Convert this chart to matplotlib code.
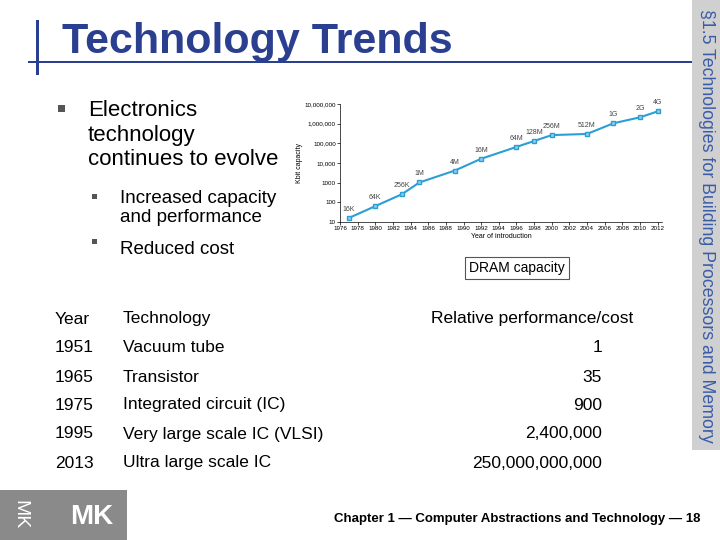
import matplotlib.pyplot as plt
from matplotlib.patches import Rectangle

years = [1977, 1980, 1983, 1985, 1989, 1992, 1996, 1998, 2000, 2004, 2007, 2010, 2012]
kbits = [16, 64, 256, 1024, 4096, 16384, 65536, 131072, 262144, 300000, 1048576, 2097152, 4194304]
chips = ["16K", "64K", "256K", "1M", "4M", "16M", "64M", "128M", "256M", "512M", "1G", "2G", "4G"]
xticks = list(range(1976, 2013, 2))
yticks = [10, 100, 1000, 10000, 100000, 1000000, 10000000]
yticklabels = ["10", "100", "1000", "10,000", "100,000", "1,000,000", "10,000,000"]

table_head = ["Year", "Technology", "Relative performance/cost"]
t_year = ["1951", "1965", "1975", "1995", "2013"]
t_tech = ["Vacuum tube", "Transistor", "Integrated circuit (IC)", "Very large scale IC (VLSI)", "Ultra large scale IC"]
t_perf = ["1", "35", "900", "2,400,000", "250,000,000,000"]

W, H = 720, 540
fig = plt.figure(figsize=(7.2, 5.4), dpi=100)
plt.rcParams['font.family'] = ['Liberation Sans', 'DejaVu Sans']
blue = "#2b3f90"

def fx(x): return x / W
def fy(y): return 1 - y / H

# decorations
fig.add_artist(Rectangle((fx(36), fy(75)), fx(3), 55 / H, color=blue, lw=0))
fig.add_artist(Rectangle((fx(28), fy(63)), fx(665), 2 / H, color=blue, lw=0))
fig.add_artist(Rectangle((fx(692), fy(450)), fx(28), 450 / H, color="#d0d0d0", lw=0))
fig.text(fx(706), fy(226), "§1.5 Technologies for Building Processors and Memory", rotation=-90,
         color="#3a5ca8", fontsize=12.8, ha="center", va="center")
fig.text(fx(62), fy(42), "Technology Trends", color=blue, fontsize=31, fontweight="bold", va="center")

# bullets
fig.add_artist(Rectangle((fx(58), fy(112)), fx(7), 7 / H, color="#555555", lw=0))
fig.text(fx(88), fy(135), "Electronics\ntechnology\ncontinues to evolve", fontsize=16, va="center", linespacing=1.2)
for yy in (200, 245):
    fig.add_artist(Rectangle((fx(92), fy(yy - 1)), fx(5), 5 / H, color="#555555", lw=0))
fig.text(fx(120), fy(208), "Increased capacity\nand performance", fontsize=13.5, va="center", linespacing=1.15)
fig.text(fx(120), fy(249), "Reduced cost", fontsize=13.5, va="center")

# DRAM chart
ax = fig.add_axes([fx(340), fy(222), fx(322), 118 / H])
ax.plot(years, kbits, color="#2a9fd6", lw=1.5, marker="s", ms=3.5, mfc="#8fcdef", mec="#2a9fd6")
for x, y, s in zip(years, kbits, chips):
    ax.text(x, y * 1.8, s, fontsize=5, ha="center", va="bottom", color="#444444")
ax.set_yscale("log")
ax.set_xlim(1976, 2012.5)
ax.set_ylim(10, 10000000)
ax.set_xticks(xticks)
ax.set_xticklabels([str(v) for v in xticks], fontsize=4.5)
ax.set_yticks(yticks)
ax.set_yticklabels(yticklabels, fontsize=4.5)
ax.minorticks_off()
ax.tick_params(length=2, width=0.5, pad=1)
for s in ("top", "right"):
    ax.spines[s].set_visible(False)
for s in ("left", "bottom"):
    ax.spines[s].set_linewidth(0.5)
ax.set_xlabel("Year of introduction", fontsize=5, labelpad=1)
ax.set_ylabel("Kbit capacity", fontsize=5, labelpad=1)
fig.text(fx(517), fy(268), "DRAM capacity", fontsize=10, ha="center", va="center",
         bbox=dict(boxstyle="square,pad=0.3", fc="white", ec="#555555", lw=0.8))

# table
rows_y = [319, 348, 377, 405, 434, 463]
fig.text(fx(55), fy(319), table_head[0], fontsize=12.5, va="center")
fig.text(fx(123), fy(319), table_head[1], fontsize=12.5, va="center")
fig.text(fx(532), fy(319), table_head[2], fontsize=12.5, va="center", ha="center")
for i in range(len(t_year)):
    yy = rows_y[i + 1]
    fig.text(fx(55), fy(yy), t_year[i], fontsize=12.5, va="center")
    fig.text(fx(123), fy(yy), t_tech[i], fontsize=12.5, va="center")
    fig.text(fx(602), fy(yy), t_perf[i], fontsize=12.5, va="center", ha="right")

# footer
fig.add_artist(Rectangle((0, 0), fx(127), 50 / H, color="#8a8a8a", lw=0))
fig.text(fx(20), fy(515), "MK", color="white", fontsize=14, rotation=-90, ha="center", va="center")
fig.text(fx(92), fy(517), "MK", color="white", fontsize=20, fontweight="bold", ha="center", va="center")
fig.text(fx(700), fy(519), "Chapter 1 — Computer Abstractions and Technology — 18",
         fontsize=9.5, fontweight="bold", ha="right", va="center")

fig.savefig("out.png", dpi=100)
